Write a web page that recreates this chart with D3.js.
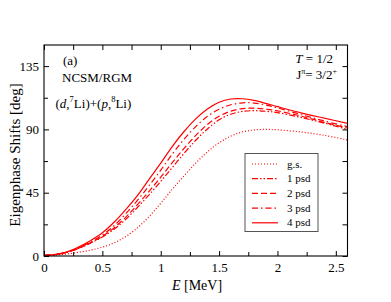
<!DOCTYPE html>
<html>
<head>
<meta charset="utf-8">
<script src="https://cdn.jsdelivr.net/npm/d3@7"></script>
<style>
  body { margin: 0; background: #fff; }
  svg text { font-family: "Liberation Serif", "Times New Roman", Times, "DejaVu Serif", serif; fill: #000; }
</style>
</head>
<body>
<div id="chart"></div>
<script>
(function() {
  'use strict';

  // energies [MeV] shared by all series
  var energies = [0, 0.1, 0.2, 0.3, 0.4, 0.5, 0.6, 0.7, 0.8, 0.9, 1.0, 1.1, 1.2, 1.3, 1.4, 1.5, 1.6, 1.7, 1.8, 1.9, 2.0, 2.2, 2.4, 2.6];

  // eigenphase shifts [deg]
  var gs   = [0.3, 0.7, 1.5, 2.7, 4.2, 6.3, 9.3, 13.8, 20, 28, 37.5, 47.5, 57, 66, 74, 80.5, 85.2, 88.2, 89.6, 90, 89.7, 88.2, 85.8, 82.5];
  var psd1 = [0.5, 1.0, 2.6, 5.5, 9.2, 13.5, 19, 26, 34.5, 43.5, 53, 63, 73, 82.3, 90.3, 96.8, 100.8, 102.8, 103.3, 102.9, 101.9, 98.5, 94.5, 90];
  var psd2 = [0.5, 1.0, 2.7, 5.7, 9.5, 14, 20, 27.5, 36.5, 46, 56, 66.5, 76.5, 85.7, 93.5, 99.3, 103, 104.8, 105.1, 104.5, 103.2, 99.5, 95, 91];
  var psd3 = [0.5, 1.1, 2.8, 6, 10, 15, 21.5, 30, 39.5, 50, 61, 72.5, 83, 92, 99.3, 104.3, 107.5, 108.9, 108.7, 107.3, 105.3, 100.6, 96, 92];
  var psd4 = [0.5, 1.2, 3, 6.5, 11, 16.5, 24, 33, 43, 54.5, 66, 78, 88.5, 97.5, 104.5, 109.3, 111.6, 111.8, 110.6, 108.5, 106.2, 101.8, 98, 94.3];

  var seriesNames = ['g.s.', '1 psd', '2 psd', '3 psd', '4 psd'];
  var seriesData = [gs, psd1, psd2, psd3, psd4];
  var seriesDash = ['1,2', '6,2,1.5,2,1.5,2', '6,3', '6,3,1.5,3', null];

  var xTicks = [0, 0.5, 1, 1.5, 2, 2.5];
  var xMinor = [0.25, 0.75, 1.25, 1.75, 2.25];
  var yTicks = [0, 45, 90, 135];
  var yMinor = [22.5, 67.5, 112.5];

  var FONT = '"Liberation Serif", "Times New Roman", Times, "DejaVu Serif", serif';

  var W = 391, H = 302;
  var margin = { top: 45, right: 43.5, bottom: 46, left: 44 };
  var width = W - margin.left - margin.right,
    height = H - margin.top - margin.bottom;

  var x = d3.scaleLinear().domain([0, 2.6]).range([0, width]);
  var y = d3.scaleLinear().domain([0, 150]).range([height, 0]);

  var svg = d3.select('#chart').append('svg')
    .attr('width', W)
    .attr('height', H)
    .attr('font-family', FONT);

  var g = svg.append('g')
    .attr('transform', 'translate(' + margin.left + ',' + margin.top + ')');

  // curves
  var line = d3.line()
    .x(function(d) { return x(d[0]); })
    .y(function(d) { return y(d[1]); })
    .curve(d3.curveCatmullRom.alpha(0.5));

  g.append('clipPath').attr('id', 'clip')
    .append('rect').attr('width', width).attr('height', height);

  seriesData.forEach(function(vals, i) {
    var pts = energies.map(function(e, j) { return [e, vals[j]]; });
    g.append('path')
      .attr('d', line(pts))
      .attr('fill', 'none')
      .attr('stroke', '#ff0000')
      .attr('stroke-width', 1.2)
      .attr('stroke-dasharray', seriesDash[i])
      .attr('clip-path', 'url(#clip)');
  });

  // axes with inward ticks on all sides
  function fmt(d) { return d3.format('')(d); }

  g.append('g')
    .attr('transform', 'translate(0,' + height + ')')
    .call(d3.axisBottom(x).tickValues(xTicks).tickSize(-5).tickPadding(7).tickFormat(fmt))
    .call(styleAxis);
  g.append('g')
    .attr('transform', 'translate(0,' + height + ')')
    .call(d3.axisBottom(x).tickValues(xMinor).tickSize(-4).tickFormat(''))
    .call(styleAxis);
  g.append('g')
    .call(d3.axisTop(x).tickValues(xTicks.concat(xMinor)).tickSize(-5).tickFormat(''))
    .call(styleAxis);

  g.append('g')
    .call(d3.axisLeft(y).tickValues(yTicks).tickSize(-5).tickPadding(5).tickFormat(fmt))
    .call(styleAxis);
  g.append('g')
    .call(d3.axisLeft(y).tickValues(yMinor).tickSize(-4).tickFormat(''))
    .call(styleAxis);
  g.append('g')
    .attr('transform', 'translate(' + width + ',0)')
    .call(d3.axisRight(y).tickValues(yTicks.concat(yMinor)).tickSize(-5).tickFormat(''))
    .call(styleAxis);

  function styleAxis(sel) {
    sel.attr('font-family', FONT).attr('font-size', 13);
    sel.select('.domain').remove();
    sel.selectAll('line').attr('stroke', '#000').attr('stroke-width', 1);
    sel.selectAll('text').attr('fill', '#000');
  }

  g.append('rect')
    .attr('width', width)
    .attr('height', height)
    .attr('fill', 'none')
    .attr('stroke', '#000')
    .attr('stroke-width', 1.1);

  // axis titles
  var xt = svg.append('text')
    .attr('x', 197)
    .attr('y', 290)
    .attr('text-anchor', 'middle')
    .attr('font-size', 14);
  xt.append('tspan').attr('font-style', 'italic').text('E');
  xt.append('tspan').text(' [MeV]');

  svg.append('text')
    .attr('transform', 'translate(20,155) rotate(-90)')
    .attr('text-anchor', 'middle')
    .attr('font-size', 15)
    .text('Eigenphase Shifts [deg]');

  // annotations
  svg.append('text').attr('x', 63).attr('y', 65).attr('font-size', 13).text('(a)');
  svg.append('text').attr('x', 62).attr('y', 81.5).attr('font-size', 13).text('NCSM/RGM');

  var rx = svg.append('text').attr('x', 55.5).attr('y', 107.5).attr('font-size', 13);
  rx.append('tspan').text('(');
  rx.append('tspan').attr('font-style', 'italic').text('d');
  rx.append('tspan').text(',');
  rx.append('tspan').attr('dy', -6).attr('font-size', 8.5).text('7');
  rx.append('tspan').attr('dy', 6).text('Li)+(');
  rx.append('tspan').attr('font-style', 'italic').text('p');
  rx.append('tspan').text(',');
  rx.append('tspan').attr('dy', -6).attr('font-size', 8.5).text('8');
  rx.append('tspan').attr('dy', 6).text('Li)');

  var t1 = svg.append('text').attr('x', 333).attr('y', 63).attr('text-anchor', 'end').attr('font-size', 13);
  t1.append('tspan').attr('font-style', 'italic').text('T');
  t1.append('tspan').text(' = 1/2');

  var t2 = svg.append('text').attr('x', 337).attr('y', 79).attr('text-anchor', 'end').attr('font-size', 13);
  t2.append('tspan').text('J');
  t2.append('tspan').attr('dy', -5).attr('font-size', 8).text('\u03C0');
  t2.append('tspan').attr('dy', 5).text('= 3/2');
  t2.append('tspan').attr('dy', -5).attr('font-size', 8).text('+');

  // legend
  var legend = svg.append('g');
  legend.append('rect')
    .attr('x', 245).attr('y', 153.5)
    .attr('width', 73).attr('height', 78)
    .attr('fill', '#fff')
    .attr('stroke', '#555')
    .attr('stroke-width', 1);

  seriesNames.forEach(function(name, i) {
    var ly = 164 + i * 14.7;
    legend.append('line')
      .attr('x1', 252).attr('x2', 278)
      .attr('y1', ly).attr('y2', ly)
      .attr('stroke', '#ff0000')
      .attr('stroke-width', 1.2)
      .attr('stroke-dasharray', seriesDash[i]);
    legend.append('text')
      .attr('x', 287).attr('y', ly + 3.5)
      .attr('font-size', 11)
      .text(name);
  });
})();
</script>
</body>
</html>
